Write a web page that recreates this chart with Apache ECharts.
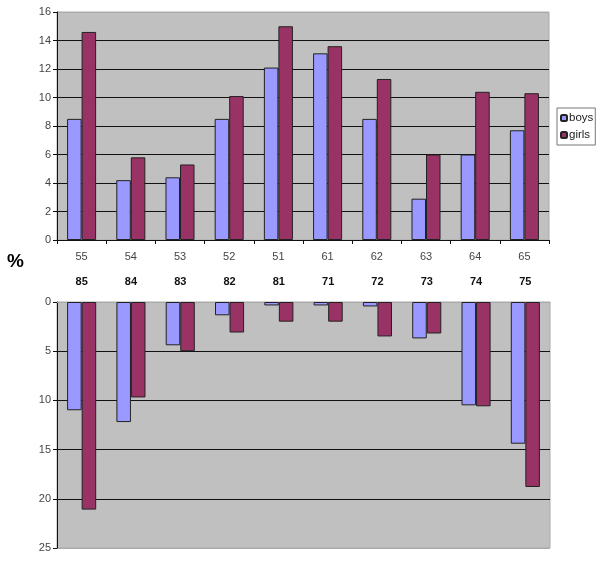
<!DOCTYPE html>
<html>
<head>
<meta charset="utf-8">
<script src="https://cdn.jsdelivr.net/npm/echarts@6/dist/echarts.min.js"></script>
<style>
  html, body { margin: 0; padding: 0; background: #fff; }
  #chart { width: 600px; height: 562px; }
</style>
</head>
<body>
<div id="chart"></div>
<script>
var myChart = echarts.init(document.getElementById('chart'));

// upper panel
var topCats = ['55', '54', '53', '52', '51', '61', '62', '63', '64', '65'];
var topBoys = [8.5, 4.2, 4.4, 8.5, 12.1, 13.1, 8.5, 2.9, 6.0, 7.7];
var topGirls = [14.6, 5.8, 5.3, 10.1, 15.0, 13.6, 11.3, 6.0, 10.4, 10.3];

// lower panel (drawn downwards)
var botCats = ['85', '84', '83', '82', '81', '71', '72', '73', '74', '75'];
var botBoys = [11.0, 12.2, 4.4, 1.35, 0.35, 0.35, 0.45, 3.7, 10.5, 14.4];
var botGirls = [21.1, 9.7, 5.0, 3.1, 2.0, 2.0, 3.5, 3.2, 10.6, 18.8];

var font = 'Liberation Sans, Arial, sans-serif';
var boysColor = '#9999FF';
var girlsColor = '#993366';

function barSeries(name, color, idx, data) {
    return {
        name: name,
        type: 'bar',
        xAxisIndex: idx,
        yAxisIndex: idx,
        barGap: '0%',
        barCategoryGap: '41%',
        itemStyle: {
            color: color,
            borderColor: '#222',
            borderWidth: 1
        },
        emphasis: { disabled: true },
        data: data
    };
}

var option = {
    animation: false,
    textStyle: { fontFamily: font },
    legend: {
        orient: 'vertical',
        left: 557,
        top: 108,
        padding: [4, 2, 4, 3],
        itemGap: 5,
        itemWidth: 6,
        itemHeight: 6,
        borderColor: '#777',
        borderWidth: 1,
        backgroundColor: '#fff',
        textStyle: { fontSize: 11.5, color: '#222', padding: [0, 0, 0, -3] },
        data: ['boys', 'girls']
    },
    graphic: [{
        type: 'text',
        left: 7,
        top: 252,
        style: { text: '%', font: 'bold 19px ' + font, fill: '#000' }
    }],
    grid: [
        { left: 57, top: 12, width: 492, height: 228, show: true, backgroundColor: '#C0C0C0', borderColor: '#aaa', borderWidth: 1 },
        { left: 57, top: 302, width: 493, height: 246, show: true, backgroundColor: '#C0C0C0', borderColor: '#aaa', borderWidth: 1 }
    ],
    xAxis: [{
        type: 'category',
        gridIndex: 0,
        data: topCats,
        axisLine: { lineStyle: { color: '#111' } },
        axisTick: { show: true, length: 4, lineStyle: { color: '#111' } },
        axisLabel: { color: '#444', fontSize: 11, margin: 11 }
    }, {
        type: 'category',
        gridIndex: 1,
        position: 'top',
        data: botCats,
        axisLine: { lineStyle: { color: '#aaa' } },
        axisTick: { show: false },
        axisLabel: { color: '#111', fontSize: 11, fontWeight: 'bold', margin: 15 }
    }],
    yAxis: [{
        type: 'value',
        gridIndex: 0,
        min: 0,
        max: 16,
        interval: 2,
        axisLine: { show: true, lineStyle: { color: '#111' } },
        axisTick: { show: true, length: 4, lineStyle: { color: '#111' } },
        axisLabel: { color: '#444', fontSize: 11, margin: 6 },
        splitLine: { lineStyle: { color: ['#111', '#111', '#111', '#111', '#111', '#111', '#111', '#111', '#aaa'] } }
    }, {
        type: 'value',
        gridIndex: 1,
        inverse: true,
        min: 0,
        max: 25,
        interval: 5,
        axisLine: { show: true, lineStyle: { color: '#111' } },
        axisTick: { show: true, length: 4, lineStyle: { color: '#111' } },
        axisLabel: { color: '#444', fontSize: 11, margin: 6 },
        splitLine: { lineStyle: { color: ['#aaa', '#111', '#111', '#111', '#111', '#aaa'] } }
    }],
    series: [
        barSeries('boys', boysColor, 0, topBoys),
        barSeries('girls', girlsColor, 0, topGirls),
        barSeries('boys', boysColor, 1, botBoys),
        barSeries('girls', girlsColor, 1, botGirls)
    ]
};

myChart.setOption(option);
</script>
</body>
</html>
